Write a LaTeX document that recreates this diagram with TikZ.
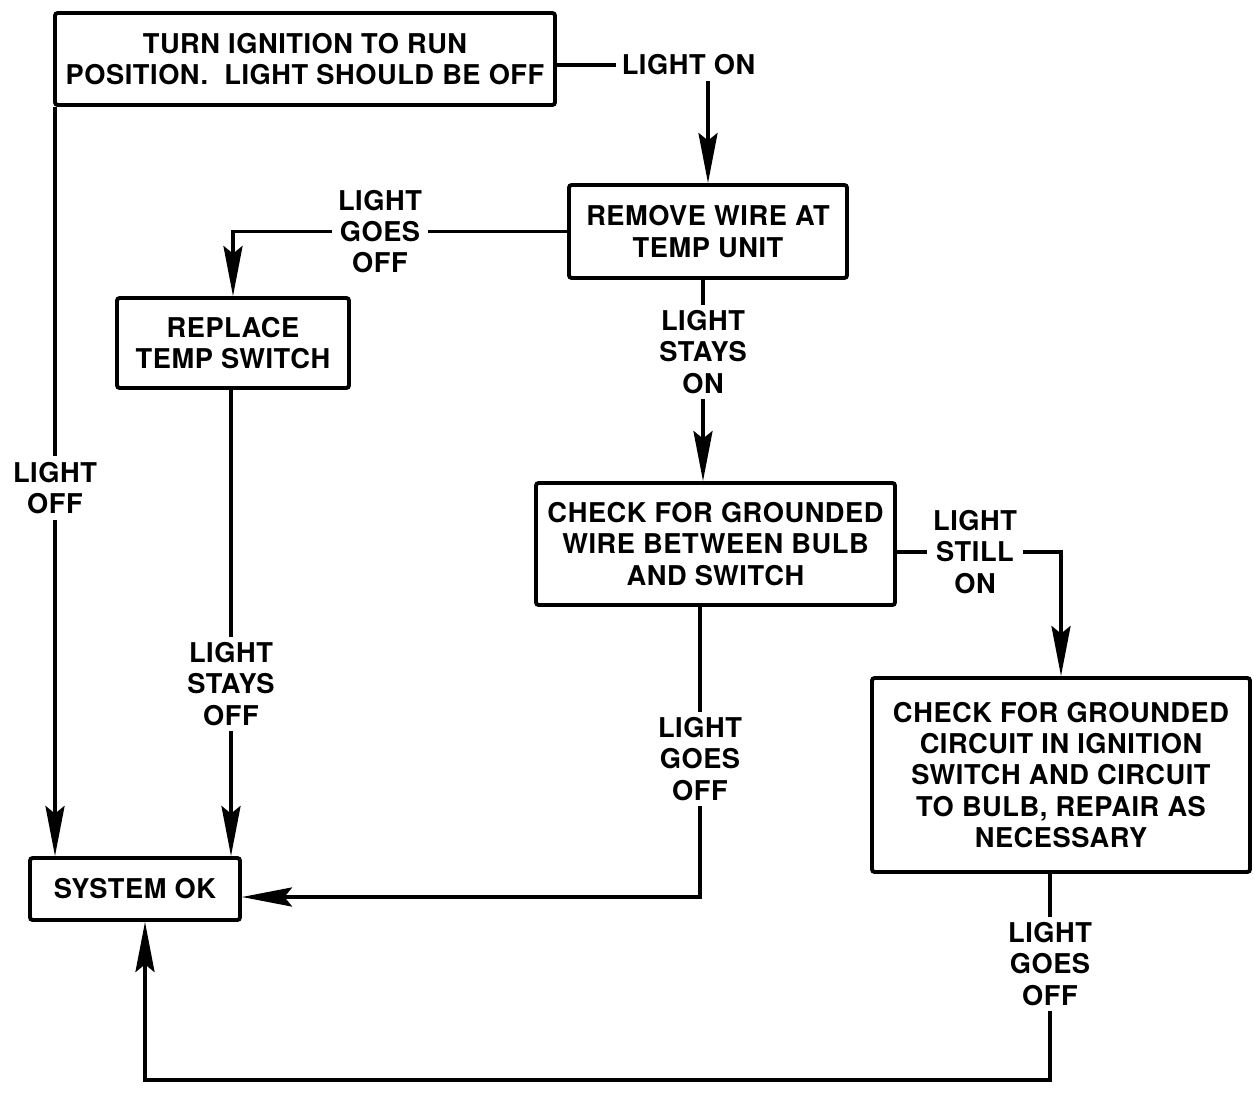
\documentclass[tikz,border=0pt]{standalone}
\usepackage{fontspec}
\setmainfont{TeX Gyre Heros}[LetterSpace=2.0]
\usetikzlibrary{positioning, arrows.meta}

\begin{document}
\begin{tikzpicture}[
  every node/.style={font=\fontsize{15.5}{17.8}\selectfont\bfseries},
  ln/.style={line width=2.2pt},
  arr/.style={ln, -{Stealth[length=1.0cm, width=0.38cm, inset=0.15cm]}},
  stepbox/.style={draw, line width=2.2pt, rounded corners=1.5pt,
                  align=center, inner sep=0pt},
  lbl/.style={align=center, inner sep=3pt}
]
\useasboundingbox (0,0) rectangle (25.08,-21.86);

% ---- Step boxes ----
\node[stepbox, minimum width=10.0cm, minimum height=1.84cm] (turn) at (6.10,-1.18)
  {TURN IGNITION TO RUN\\POSITION.\ \ LIGHT SHOULD BE OFF};
\node[stepbox, minimum width=5.56cm, minimum height=1.86cm] (rmv) at (14.16,-4.63)
  {REMOVE WIRE AT\\TEMP UNIT};
\node[stepbox, minimum width=4.64cm, minimum height=1.8cm] (repl) at (4.66,-6.86)
  {REPLACE\\TEMP SWITCH};
\node[stepbox, minimum width=7.18cm, minimum height=2.44cm] (chkw) at (14.31,-10.88)
  {CHECK FOR GROUNDED\\WIRE BETWEEN BULB\\AND SWITCH};
\node[stepbox, minimum width=7.56cm, minimum height=3.88cm] (chkc) at (21.22,-15.5)
  {CHECK FOR GROUNDED\\CIRCUIT IN IGNITION\\SWITCH AND CIRCUIT\\TO BULB, REPAIR AS\\NECESSARY};
\node[stepbox, minimum width=4.2cm, minimum height=1.24cm] (ok) at (2.70,-17.78)
  {SYSTEM OK};

% ---- Connector labels ----
\node[lbl] (lon)  at (13.77,-1.30)  {LIGHT ON};
\node[lbl] (gof1) at (7.60,-4.63)   {LIGHT\\GOES\\OFF};
\node[lbl] (son)  at (14.06,-7.04)  {LIGHT\\STAYS\\ON};
\node[lbl] (soff) at (4.62,-13.68)  {LIGHT\\STAYS\\OFF};
\node[lbl] (lof)  at (1.10,-9.76)   {LIGHT\\OFF};
\node[lbl] (gof2) at (14.00,-15.18) {LIGHT\\GOES\\OFF};
\node[lbl] (sti)  at (19.50,-11.04) {LIGHT\\STILL\\ON};
\node[lbl] (gof3) at (21.00,-19.28) {LIGHT\\GOES\\OFF};

\coordinate (bend) at (2.90,-21.60);

% ---- Connectors ----
\draw[ln]  (turn.east |- lon.west) -- (lon.west);
\draw[arr] (lon.south -| rmv.north) -- (rmv.north);

\draw[ln]  (rmv.west) -- (rmv.west -| gof1.east);
\draw[arr] (gof1.west) -| (repl.north);

\draw[ln]  (rmv.south -| son.north) -- (son.north);
\draw[arr] (son.south) -- (son.south |- chkw.north);

\draw[ln]  (repl.south -| soff.north) -- (soff.north);
\draw[arr] (soff.south) -- (soff.south |- ok.north);

\draw[ln]  (turn.south -| lof.north) -- (lof.north);
\draw[arr] (lof.south) -- (lof.south |- ok.north);

\draw[ln]  (chkw.south -| gof2.north) -- (gof2.north);
\draw[arr] (gof2.south) |- ([yshift=-0.16cm]ok.east);

\draw[ln]  (chkw.east |- sti.west) -- (sti.west);
\draw[arr] (sti.east) -| (chkc.north);

\draw[ln]  (chkc.south -| gof3.north) -- (gof3.north);
\draw[arr] (gof3.south) |- (bend) -- (bend |- ok.south);

\end{tikzpicture}
\end{document}
